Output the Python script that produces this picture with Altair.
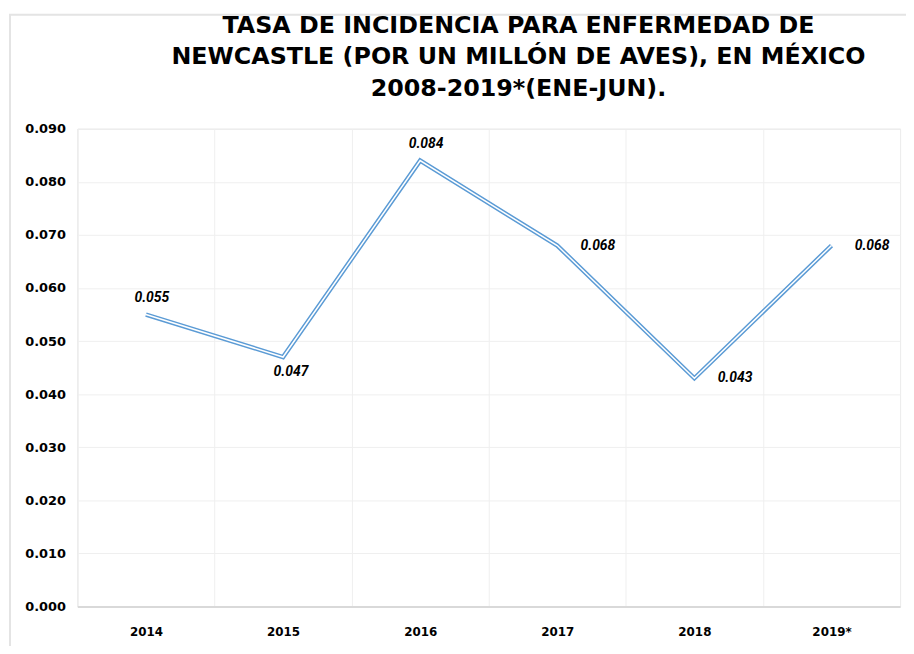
import altair as alt
import pandas as pd

years = ["2014", "2015", "2016", "2017", "2018", "2019*"]
rates = [0.055, 0.047, 0.084, 0.068, 0.043, 0.068]
label_pos = ["above", "below", "above", "right", "right", "right"]
y_ticks = [0.0, 0.01, 0.02, 0.03, 0.04, 0.05, 0.06, 0.07, 0.08, 0.09]
title_lines = [
    "TASA DE INCIDENCIA PARA ENFERMEDAD DE",
    "NEWCASTLE (POR UN MILLÓN DE AVES), EN MÉXICO",
    "2008-2019*(ENE-JUN).",
]

df = pd.DataFrame({"year": years, "rate": rates, "pos": label_pos})

xenc = alt.X("year:N", sort=years,
             scale=alt.Scale(type="band", paddingInner=0, paddingOuter=0),
             axis=alt.Axis(title=None, labelAngle=0, labelFont="DejaVu Sans",
                           labelFontWeight="bold", labelFontSize=12, labelColor="#000",
                           labelPadding=20, ticks=False, domain=True, domainColor="#d9d9d9",
                           domainWidth=2, grid=True, tickBand="extent",
                           gridColor="#efefef", gridWidth=1))
yenc = alt.Y("rate:Q", scale=alt.Scale(domain=[0, 0.09]),
             axis=alt.Axis(title=None, values=y_ticks, format=".3f", labelFont="DejaVu Sans",
                           labelFontWeight="bold", labelFontSize=13, labelColor="#000",
                           labelPadding=12, ticks=False, domain=False, grid=True,
                           gridColor="#efefef", gridWidth=1))

base = alt.Chart(df)

frame = base.transform_filter(alt.datum.year == years[0]).mark_rect(
    fill=None, stroke="#e4e4e4", strokeWidth=2, clip=False).encode(
    x=alt.value(-68), x2=alt.value(860), y=alt.value(-115), y2=alt.value(560)
)

line_outer = base.mark_line(color="#5b9bd5", strokeWidth=4.5).encode(x=xenc, y=yenc)
line_inner = base.mark_line(color="#ffffff", strokeWidth=1.5).encode(x=xenc, y=yenc)

tstyle = dict(font="Roboto", fontStyle="italic", fontWeight="bold", fontSize=14, color="#000")
t_above = base.transform_filter(alt.datum.pos == "above").mark_text(dy=-17, dx=6, **tstyle).encode(
    x=xenc, y=yenc, text=alt.Text("rate:Q", format=".3f"))
t_below = base.transform_filter(alt.datum.pos == "below").mark_text(dy=15, dx=8, **tstyle).encode(
    x=xenc, y=yenc, text=alt.Text("rate:Q", format=".3f"))
t_right = base.transform_filter(alt.datum.pos == "right").mark_text(dy=0, dx=41, **tstyle).encode(
    x=xenc, y=yenc, text=alt.Text("rate:Q", format=".3f"))

chart = alt.layer(frame, line_outer, line_inner, t_above, t_below, t_right).properties(
    width=830, height=482,
    autosize=alt.AutoSizeParams(type="none"),
    padding={"left": 70, "top": 119, "right": 6, "bottom": 37},
    title=alt.TitleParams(text=title_lines, font="DejaVu Sans", fontWeight="bold", fontSize=24,
                          color="#000", anchor="middle", dx=30, offset=0,
                          dy=88, lineHeight=32, frame="group"),
).configure_view(stroke="#efefef", strokeWidth=1).configure(background="white")

chart.save("out.html", embed_options={"renderer": "svg", "actions": False})
